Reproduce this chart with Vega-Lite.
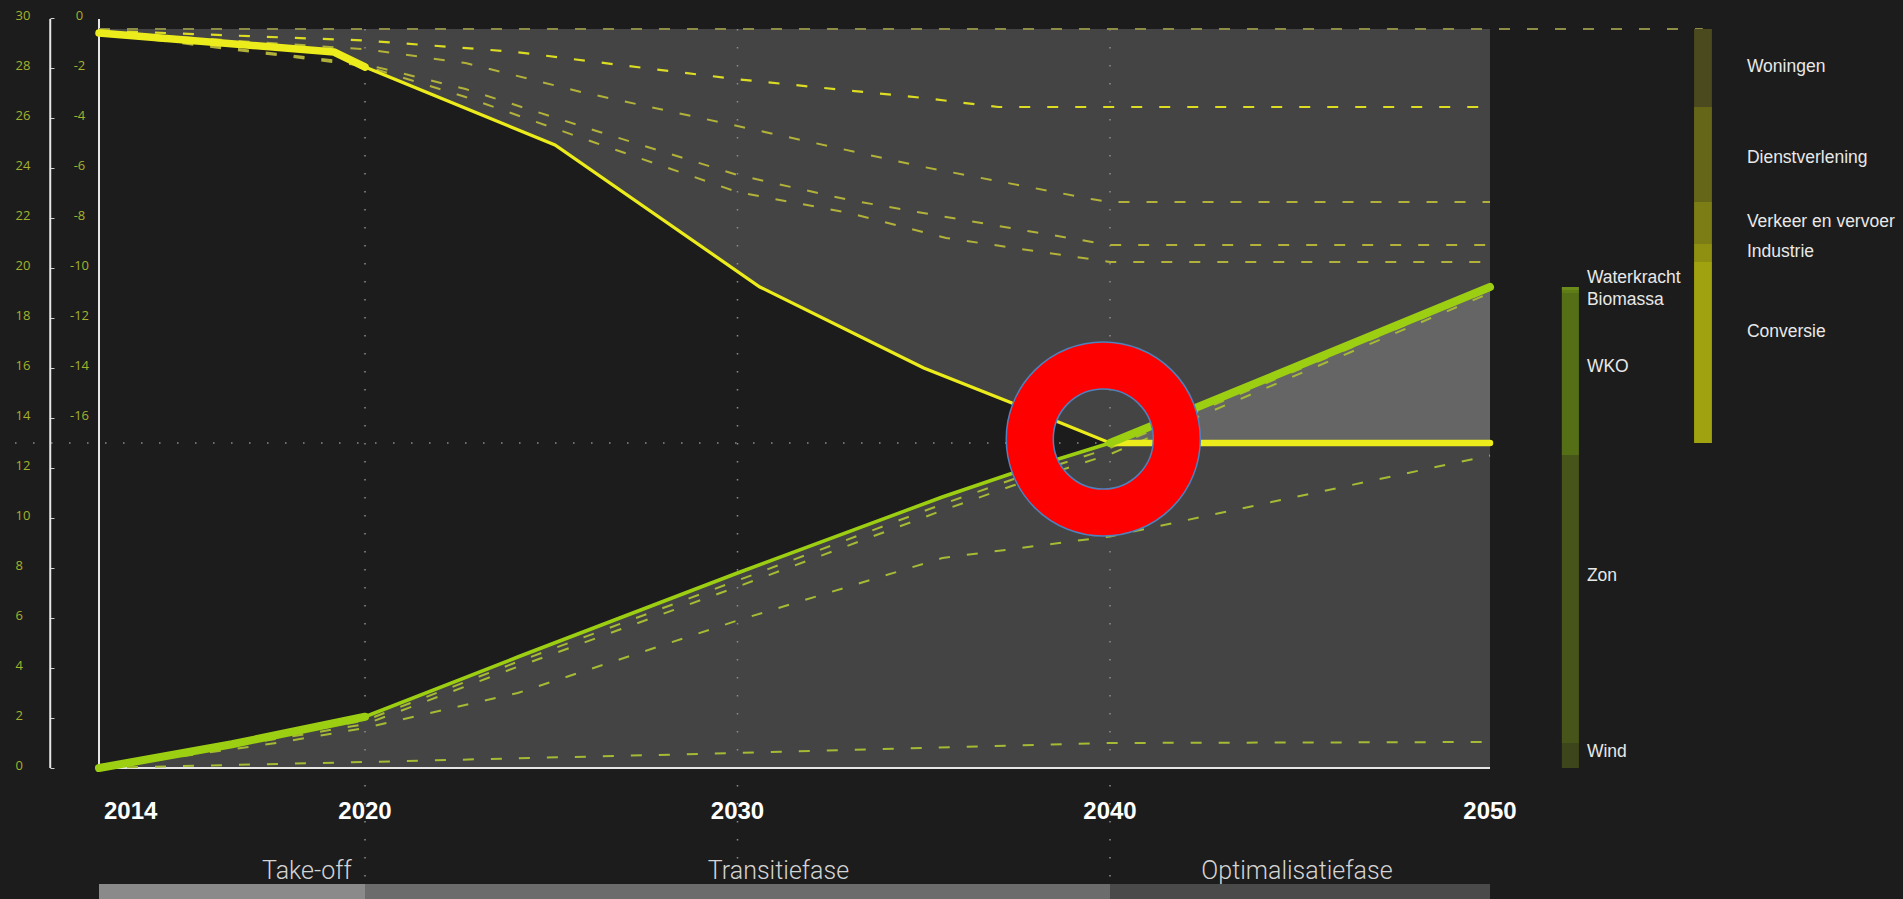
{
  "$schema": "https://vega.github.io/schema/vega-lite/v6.json",
  "width": 1903,
  "height": 899,
  "autosize": {"type": "none"},
  "padding": 0,
  "background": "#1c1c1c",
  "config": {"view": {"stroke": null}},
  "resolve": {"axis": {"y": "independent"}, "scale": {"color": "independent"}},
  "datasets": {
    "lines": [
      {"series": "Basis", "year": 2014, "value": 29.56},
      {"series": "Basis", "year": 2050, "value": 29.56},
      {"series": "Basis", "year": 2055.6, "value": 29.56},

      {"series": "Woningen", "year": 2014, "value": 29.5},
      {"series": "Woningen", "year": 2020, "value": 29.1},
      {"series": "Woningen", "year": 2024, "value": 28.65},
      {"series": "Woningen", "year": 2027.5, "value": 28.0},
      {"series": "Woningen", "year": 2030, "value": 27.55},
      {"series": "Woningen", "year": 2035, "value": 26.8},
      {"series": "Woningen", "year": 2037, "value": 26.44},
      {"series": "Woningen", "year": 2040, "value": 26.44},
      {"series": "Woningen", "year": 2050, "value": 26.44},

      {"series": "Dienstverlening", "year": 2014, "value": 29.45},
      {"series": "Dienstverlening", "year": 2020, "value": 28.75},
      {"series": "Dienstverlening", "year": 2022.7, "value": 28.2},
      {"series": "Dienstverlening", "year": 2025.8, "value": 27.04},
      {"series": "Dienstverlening", "year": 2030, "value": 25.68},
      {"series": "Dienstverlening", "year": 2035, "value": 24.04},
      {"series": "Dienstverlening", "year": 2039.5, "value": 22.76},
      {"series": "Dienstverlening", "year": 2040, "value": 22.64},
      {"series": "Dienstverlening", "year": 2050, "value": 22.64},

      {"series": "Verkeer en vervoer", "year": 2014, "value": 29.42},
      {"series": "Verkeer en vervoer", "year": 2020, "value": 28.15},
      {"series": "Verkeer en vervoer", "year": 2022.7, "value": 27.16},
      {"series": "Verkeer en vervoer", "year": 2026.3, "value": 25.44},
      {"series": "Verkeer en vervoer", "year": 2030, "value": 23.72},
      {"series": "Verkeer en vervoer", "year": 2033, "value": 22.72},
      {"series": "Verkeer en vervoer", "year": 2035.6, "value": 22.04},
      {"series": "Verkeer en vervoer", "year": 2040, "value": 20.92},
      {"series": "Verkeer en vervoer", "year": 2050, "value": 20.92},

      {"series": "Industrie", "year": 2014, "value": 29.4},
      {"series": "Industrie", "year": 2020, "value": 28.08},
      {"series": "Industrie", "year": 2022.7, "value": 26.84},
      {"series": "Industrie", "year": 2026.2, "value": 25.0},
      {"series": "Industrie", "year": 2030, "value": 23.04},
      {"series": "Industrie", "year": 2033, "value": 22.2},
      {"series": "Industrie", "year": 2035.6, "value": 21.2},
      {"series": "Industrie", "year": 2040, "value": 20.24},
      {"series": "Industrie", "year": 2050, "value": 20.24},

      {"series": "Vraag", "year": 2014, "value": 29.4},
      {"series": "Vraag", "year": 2019.3, "value": 28.64},
      {"series": "Vraag", "year": 2020, "value": 28.04},
      {"series": "Vraag", "year": 2025.1, "value": 24.92},
      {"series": "Vraag", "year": 2030.6, "value": 19.24},
      {"series": "Vraag", "year": 2035, "value": 16.0},
      {"series": "Vraag", "year": 2037.3, "value": 14.64},
      {"series": "Vraag", "year": 2040, "value": 13.0},
      {"series": "Vraag", "year": 2050, "value": 13.0},

      {"series": "Wind", "year": 2014, "value": 0},
      {"series": "Wind", "year": 2020, "value": 0.24},
      {"series": "Wind", "year": 2030, "value": 0.6},
      {"series": "Wind", "year": 2040, "value": 1.0},
      {"series": "Wind", "year": 2050, "value": 1.04},

      {"series": "Zon", "year": 2014, "value": 0},
      {"series": "Zon", "year": 2018, "value": 1.0},
      {"series": "Zon", "year": 2020, "value": 1.6},
      {"series": "Zon", "year": 2024.1, "value": 3.0},
      {"series": "Zon", "year": 2030, "value": 5.9},
      {"series": "Zon", "year": 2035.5, "value": 8.4},
      {"series": "Zon", "year": 2040, "value": 9.26},
      {"series": "Zon", "year": 2050, "value": 12.5},

      {"series": "WKO", "year": 2014, "value": 0},
      {"series": "WKO", "year": 2020, "value": 1.75},
      {"series": "WKO", "year": 2024.1, "value": 4.05},
      {"series": "WKO", "year": 2030, "value": 7.25},
      {"series": "WKO", "year": 2035.5, "value": 10.3},
      {"series": "WKO", "year": 2037.4, "value": 11.3},
      {"series": "WKO", "year": 2040, "value": 12.55},
      {"series": "WKO", "year": 2050, "value": 19.0},

      {"series": "Biomassa", "year": 2014, "value": 0},
      {"series": "Biomassa", "year": 2020, "value": 1.9},
      {"series": "Biomassa", "year": 2024.1, "value": 4.25},
      {"series": "Biomassa", "year": 2030, "value": 7.5},
      {"series": "Biomassa", "year": 2035.5, "value": 10.55},
      {"series": "Biomassa", "year": 2037.4, "value": 11.55},
      {"series": "Biomassa", "year": 2040, "value": 12.8},
      {"series": "Biomassa", "year": 2050, "value": 19.12},

      {"series": "Aanbod", "year": 2014, "value": 0},
      {"series": "Aanbod", "year": 2017, "value": 0.95},
      {"series": "Aanbod", "year": 2020, "value": 2.05},
      {"series": "Aanbod", "year": 2024.1, "value": 4.44},
      {"series": "Aanbod", "year": 2030, "value": 7.8},
      {"series": "Aanbod", "year": 2035.5, "value": 10.84},
      {"series": "Aanbod", "year": 2037.4, "value": 11.8},
      {"series": "Aanbod", "year": 2040, "value": 13.0},
      {"series": "Aanbod", "year": 2050, "value": 19.24}
    ],
    "segments": [
      {"bar": "aanbod", "name": "Wind", "low": 0, "high": 1.0, "labelAt": 0.64},
      {"bar": "aanbod", "name": "Zon", "low": 1.0, "high": 12.52, "labelAt": 7.68},
      {"bar": "aanbod", "name": "WKO", "low": 12.52, "high": 19.0, "labelAt": 16.04},
      {"bar": "aanbod", "name": "Biomassa", "low": 19.0, "high": 19.12, "labelAt": 18.72},
      {"bar": "aanbod", "name": "Waterkracht", "low": 19.12, "high": 19.24, "labelAt": 19.6},
      {"bar": "vraag", "name": "Conversie", "low": 13.0, "high": 20.24, "labelAt": 17.44},
      {"bar": "vraag", "name": "Industrie", "low": 20.24, "high": 20.96, "labelAt": 20.64},
      {"bar": "vraag", "name": "Verkeer en vervoer", "low": 20.96, "high": 22.64, "labelAt": 21.84},
      {"bar": "vraag", "name": "Dienstverlening", "low": 22.64, "high": 26.44, "labelAt": 24.4},
      {"bar": "vraag", "name": "Woningen", "low": 26.44, "high": 29.56, "labelAt": 28.04}
    ],
    "phases": [
      {"phase": "Take-off", "start": 2014, "end": 2020, "labelAt": 2018.69},
      {"phase": "Transitiefase", "start": 2020, "end": 2040, "labelAt": 2031.1},
      {"phase": "Optimalisatiefase", "start": 2040, "end": 2050, "labelAt": 2044.92}
    ],
    "tickYears": [{"year": 2014}, {"year": 2020}, {"year": 2030}, {"year": 2040}, {"year": 2050}],
    "gridYears": [{"year": 2020}, {"year": 2030}, {"year": 2040}],
    "balance": [{"value": 13}],
    "marker": [{"year": 2039.82, "value": 13.16}],
    "one": [{}]
  },
  "layer": [
    {
      "data": {"name": "lines"},
      "transform": [{"filter": "datum.series == 'Vraag'"}],
      "mark": {"type": "area", "color": "#ffffff", "opacity": 0.18},
      "encoding": {
        "x": {"field": "year", "type": "quantitative",
          "scale": {"domain": [2014, 2020, 2040, 2050], "range": [99, 365, 1110, 1490], "nice": false, "zero": false},
          "axis": null},
        "y": {"field": "value", "type": "quantitative",
          "scale": {"domain": [-5.24, 30.72], "nice": false, "zero": false},
          "axis": {"values": [0, 2, 4, 6, 8, 10, 12, 14, 16, 18, 20, 22, 24, 26, 28, 30], "title": null, "orient": "left",
            "offset": -50, "domain": false, "grid": false, "ticks": true, "tickSize": -4, "tickColor": "#cfcfcf",
            "labelAlign": "left", "labelBaseline": "middle", "labelPadding": 39, "labelOffset": -3,
            "labelColor": "#a3b32d", "labelFont": "Open Sans", "labelFontSize": 13,
            "labelOverlap": false, "labelFlush": false, "labelBound": false}},
        "y2": {"datum": 29.56}
      }
    },
    {
      "data": {"name": "lines"},
      "transform": [{"filter": "datum.series == 'Aanbod'"}],
      "mark": {"type": "area", "color": "#ffffff", "opacity": 0.18},
      "encoding": {
        "x": {"field": "year", "type": "quantitative",
          "scale": {"domain": [2014, 2020, 2040, 2050], "range": [99, 365, 1110, 1490], "nice": false, "zero": false}, "axis": null},
        "y": {"field": "value", "type": "quantitative",
          "scale": {"domain": [-5.24, 30.72], "nice": false, "zero": false},
          "axis": {"values": [14, 16, 18, 20, 22, 24, 26, 28, 30], "title": null, "orient": "left",
            "labelExpr": "datum.value == 30 ? '0' : '-' + (30 - datum.value)",
            "offset": -99, "domain": false, "grid": false, "ticks": false,
            "labelAlign": "center", "labelBaseline": "middle", "labelPadding": 20, "labelOffset": -3,
            "labelColor": "#a3b32d", "labelFont": "Open Sans", "labelFontSize": 13,
            "labelOverlap": false, "labelFlush": false, "labelBound": false}},
        "y2": {"datum": 0}
      }
    },
    {
      "data": {"name": "gridYears"},
      "mark": {"type": "rule", "color": "#8c8c8c", "strokeWidth": 1.5, "strokeDash": [1.5, 16.5]},
      "encoding": {
        "x": {"field": "year", "type": "quantitative",
          "scale": {"domain": [2014, 2020, 2040, 2050], "range": [99, 365, 1110, 1490], "nice": false, "zero": false}, "axis": null},
        "y": {"datum": 29.56, "type": "quantitative", "axis": null},
        "y2": {"datum": -5.24}
      }
    },
    {
      "data": {"name": "balance"},
      "mark": {"type": "rule", "color": "#8c8c8c", "strokeWidth": 1.5, "strokeDash": [1.5, 16.5]},
      "encoding": {
        "y": {"field": "value", "type": "quantitative",
          "scale": {"domain": [-5.24, 30.72], "nice": false, "zero": false}, "axis": null},
        "x": {"datum": 2011.7, "type": "quantitative", "axis": null},
        "x2": {"datum": 2040}
      }
    },
    {
      "data": {"name": "one"},
      "mark": {"type": "rule", "color": "#e6e6e6", "strokeWidth": 2},
      "encoding": {
        "y": {"datum": 0, "type": "quantitative", "axis": null},
        "x": {"datum": 2014, "type": "quantitative", "axis": null},
        "x2": {"datum": 2050}
      }
    },
    {
      "data": {"name": "one"},
      "mark": {"type": "rule", "color": "#e6e6e6", "strokeWidth": 2},
      "encoding": {
        "x": {"datum": 2014, "type": "quantitative", "axis": null},
        "y": {"datum": 0, "type": "quantitative", "axis": null},
        "y2": {"datum": 29.96}
      }
    },
    {
      "data": {"name": "one"},
      "mark": {"type": "rule", "color": "#e6e6e6", "strokeWidth": 2},
      "encoding": {
        "x": {"datum": 2012.9, "type": "quantitative", "axis": null},
        "y": {"datum": 0, "type": "quantitative", "axis": null},
        "y2": {"datum": 29.96}
      }
    },
    {
      "data": {"name": "tickYears"},
      "transform": [{"filter": "datum.year == 2014"}],
      "mark": {"type": "text", "align": "left", "baseline": "alphabetic", "dx": 5, "font": "Liberation Sans", "fontSize": 24, "fontWeight": "bold", "color": "#ffffff"},
      "encoding": {
        "x": {"field": "year", "type": "quantitative", "axis": null},
        "y": {"datum": -2.04, "type": "quantitative", "axis": null},
        "text": {"field": "year", "type": "quantitative", "format": "d"}
      }
    },
    {
      "data": {"name": "tickYears"},
      "transform": [{"filter": "datum.year != 2014"}],
      "mark": {"type": "text", "align": "center", "baseline": "alphabetic", "font": "Liberation Sans", "fontSize": 24, "fontWeight": "bold", "color": "#ffffff"},
      "encoding": {
        "x": {"field": "year", "type": "quantitative", "axis": null},
        "y": {"datum": -2.04, "type": "quantitative", "axis": null},
        "text": {"field": "year", "type": "quantitative", "format": "d"}
      }
    },
    {
      "data": {"name": "lines"},
      "transform": [{"filter": "datum.series == 'Basis'"}],
      "mark": {"type": "line", "color": "#8d8d45", "strokeWidth": 2, "strokeDash": [11, 17]},
      "encoding": {
        "x": {"field": "year", "type": "quantitative", "axis": null},
        "y": {"field": "value", "type": "quantitative", "axis": null},
        "detail": {"field": "series"}
      }
    },
    {
      "data": {"name": "lines"},
      "transform": [{"filter": "datum.series == 'Dienstverlening' || datum.series == 'Verkeer en vervoer' || datum.series == 'Industrie'"}],
      "mark": {"type": "line", "color": "#b2b23a", "strokeWidth": 2, "strokeDash": [11, 17]},
      "encoding": {
        "x": {"field": "year", "type": "quantitative", "axis": null},
        "y": {"field": "value", "type": "quantitative", "axis": null},
        "detail": {"field": "series"}
      }
    },
    {
      "data": {"name": "lines"},
      "transform": [{"filter": "datum.series == 'Woningen'"}],
      "mark": {"type": "line", "color": "#dcdc22", "strokeWidth": 2.2, "strokeDash": [11, 17]},
      "encoding": {
        "x": {"field": "year", "type": "quantitative", "axis": null},
        "y": {"field": "value", "type": "quantitative", "axis": null},
        "detail": {"field": "series"}
      }
    },
    {
      "data": {"name": "lines"},
      "transform": [{"filter": "datum.series == 'Wind' || datum.series == 'Zon' || datum.series == 'WKO' || datum.series == 'Biomassa'"}],
      "mark": {"type": "line", "color": "#a6ba34", "strokeWidth": 2, "strokeDash": [11, 17]},
      "encoding": {
        "x": {"field": "year", "type": "quantitative", "axis": null},
        "y": {"field": "value", "type": "quantitative", "axis": null},
        "detail": {"field": "series"}
      }
    },
    {
      "data": {"name": "lines"},
      "transform": [{"filter": "datum.series == 'Vraag'"}],
      "mark": {"type": "line", "color": "#ecec1c", "strokeWidth": 3.2, "strokeCap": "round"},
      "encoding": {
        "x": {"field": "year", "type": "quantitative", "axis": null},
        "y": {"field": "value", "type": "quantitative", "axis": null}
      }
    },
    {
      "data": {"name": "lines"},
      "transform": [{"filter": "datum.series == 'Vraag' && datum.year <= 2020"}],
      "mark": {"type": "line", "color": "#ecec1c", "strokeWidth": 7.5, "strokeCap": "round", "strokeJoin": "round"},
      "encoding": {
        "x": {"field": "year", "type": "quantitative", "axis": null},
        "y": {"field": "value", "type": "quantitative", "axis": null}
      }
    },
    {
      "data": {"name": "lines"},
      "transform": [{"filter": "datum.series == 'Vraag' && datum.year >= 2040"}],
      "mark": {"type": "line", "color": "#ecec1c", "strokeWidth": 6.5, "strokeCap": "round"},
      "encoding": {
        "x": {"field": "year", "type": "quantitative", "axis": null},
        "y": {"field": "value", "type": "quantitative", "axis": null}
      }
    },
    {
      "data": {"name": "lines"},
      "transform": [{"filter": "datum.series == 'Aanbod'"}],
      "mark": {"type": "line", "color": "#9ccf12", "strokeWidth": 3.5, "strokeCap": "round"},
      "encoding": {
        "x": {"field": "year", "type": "quantitative", "axis": null},
        "y": {"field": "value", "type": "quantitative", "axis": null}
      }
    },
    {
      "data": {"name": "lines"},
      "transform": [{"filter": "datum.series == 'Aanbod' && datum.year <= 2020"}],
      "mark": {"type": "line", "color": "#9ccf12", "strokeWidth": 8, "strokeCap": "round", "strokeJoin": "round"},
      "encoding": {
        "x": {"field": "year", "type": "quantitative", "axis": null},
        "y": {"field": "value", "type": "quantitative", "axis": null}
      }
    },
    {
      "data": {"name": "lines"},
      "transform": [{"filter": "datum.series == 'Aanbod' && datum.year >= 2040"}],
      "mark": {"type": "line", "color": "#9ccf12", "strokeWidth": 8, "strokeCap": "round"},
      "encoding": {
        "x": {"field": "year", "type": "quantitative", "axis": null},
        "y": {"field": "value", "type": "quantitative", "axis": null}
      }
    },
    {
      "data": {"name": "marker"},
      "mark": {"type": "arc", "radius": 97, "radius2": 50, "theta": 0, "theta2": 6.2832, "fill": "#ff0000", "stroke": "#4f81bd", "strokeWidth": 1.5},
      "encoding": {
        "x": {"field": "year", "type": "quantitative", "axis": null},
        "y": {"field": "value", "type": "quantitative", "axis": null}
      }
    },
    {
      "data": {"name": "segments"},
      "transform": [{"filter": "datum.bar == 'aanbod'"}],
      "mark": {"type": "rect"},
      "encoding": {
        "x": {"datum": 2051.89, "type": "quantitative", "axis": null},
        "x2": {"datum": 2052.34},
        "y": {"field": "low", "type": "quantitative", "axis": null},
        "y2": {"field": "high"},
        "color": {"field": "name", "type": "nominal", "legend": null,
          "scale": {"domain": ["Wind", "Zon", "WKO", "Biomassa", "Waterkracht"], "range": ["#3d451a", "#47541a", "#556f16", "#5f7d16", "#6b8c1a"]}}
      }
    },
    {
      "data": {"name": "segments"},
      "transform": [{"filter": "datum.bar == 'vraag'"}],
      "mark": {"type": "rect"},
      "encoding": {
        "x": {"datum": 2055.37, "type": "quantitative", "axis": null},
        "x2": {"datum": 2055.84},
        "y": {"field": "low", "type": "quantitative", "axis": null},
        "y2": {"field": "high"},
        "color": {"field": "name", "type": "nominal", "legend": null,
          "scale": {"domain": ["Conversie", "Industrie", "Verkeer en vervoer", "Dienstverlening", "Woningen"], "range": ["#a0a30f", "#8f9012", "#7d7d15", "#666619", "#4b4a1e"]}}
      }
    },
    {
      "data": {"name": "segments"},
      "transform": [{"filter": "datum.bar == 'aanbod'"}],
      "mark": {"type": "text", "align": "left", "baseline": "middle", "font": "Liberation Sans", "fontSize": 17.5, "color": "#e8e8e8"},
      "encoding": {
        "x": {"datum": 2052.55, "type": "quantitative", "axis": null},
        "y": {"field": "labelAt", "type": "quantitative", "axis": null},
        "text": {"field": "name"}
      }
    },
    {
      "data": {"name": "segments"},
      "transform": [{"filter": "datum.bar == 'vraag'"}],
      "mark": {"type": "text", "align": "left", "baseline": "middle", "font": "Liberation Sans", "fontSize": 17.5, "color": "#e8e8e8"},
      "encoding": {
        "x": {"datum": 2056.76, "type": "quantitative", "axis": null},
        "y": {"field": "labelAt", "type": "quantitative", "axis": null},
        "text": {"field": "name"}
      }
    },
    {
      "data": {"name": "phases"},
      "mark": {"type": "rect"},
      "encoding": {
        "x": {"field": "start", "type": "quantitative", "axis": null},
        "x2": {"field": "end"},
        "y": {"datum": -4.64, "type": "quantitative", "axis": null},
        "y2": {"datum": -5.3},
        "color": {"field": "phase", "type": "nominal", "legend": null,
          "scale": {"domain": ["Take-off", "Transitiefase", "Optimalisatiefase"], "range": ["#8a8a8a", "#6c6c6c", "#4a4a4a"]}}
      }
    },
    {
      "data": {"name": "phases"},
      "mark": {"type": "text", "align": "center", "baseline": "alphabetic", "font": "Roboto", "fontWeight": 300, "fontSize": 25, "color": "#d4d4d4"},
      "encoding": {
        "x": {"field": "labelAt", "type": "quantitative", "axis": null},
        "y": {"datum": -4.44, "type": "quantitative", "axis": null},
        "text": {"field": "phase"}
      }
    }
  ]
}
